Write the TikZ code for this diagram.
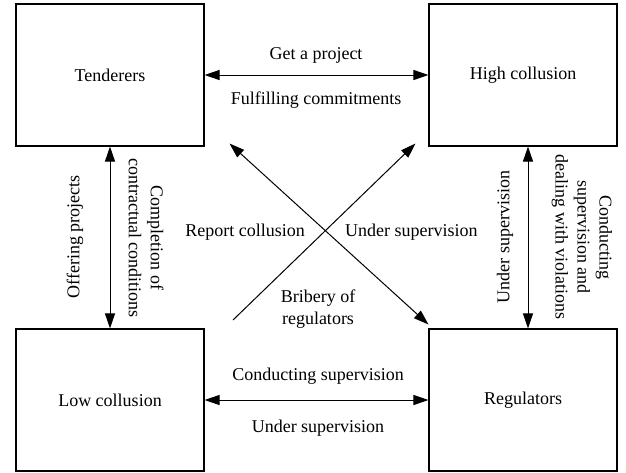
\documentclass[tikz,border=0pt]{standalone}
\usepackage{fontspec}
\setmainfont{Liberation Serif}
\usetikzlibrary{arrows.meta,calc}
\begin{document}
\begin{tikzpicture}[x=1pt,y=-1pt,
  box/.style={draw,line width=1.1pt,minimum width=188pt,minimum height=142pt,inner sep=0pt,font=\fontsize{18}{21}\selectfont},
  lbl/.style={font=\fontsize{18}{22}\selectfont,inner sep=0pt,align=center},
  conn/.style={line width=1pt,{Triangle[length=15pt,width=10pt]}-{Triangle[length=15pt,width=10pt]}},
  dconn/.style={line width=1pt},
  dtip/.style={-{Triangle[length=15pt,width=10pt]}},
  dtips/.style={{Triangle[length=15pt,width=10pt]}-{Triangle[length=15pt,width=10pt]}}
]
\useasboundingbox (0,0) rectangle (626,472);
\node[box] (ten) at (110,75) {Tenderers};
\node[box] (high) at (523,75) {High collusion};
\node[box] (low) at (110,400) {Low collusion};
\node[box] (reg) at (523,400) {Regulators};

\node[lbl] (gp) at (316,55) {Get a project};
\node[lbl] (fc) at (316,100) {Fulfilling commitments};
\node[lbl] (cs) at (318,376) {Conducting supervision};
\node[lbl] (us) at (318,428) {Under supervision};
\node[lbl,anchor=east] (rc) at (305,232) {Report collusion};
\node[lbl,anchor=west] (us2) at (345,232) {Under supervision};
\node[lbl] (br) at (318,309) {Bribery of\\regulators};
\node[lbl,rotate=90] (op) at (75,237) {Offering projects};
\node[lbl,rotate=-90] (cc) at (146,238) {Completion of\\contractual conditions};
\node[lbl,rotate=90] (us3) at (505,237) {Under supervision};
\node[lbl,rotate=-90] (cd) at (582,237) {Conducting\\supervision and\\dealing with violations};

\draw[conn] (ten.east) -- (high.west);
\draw[conn] (low.east) -- (reg.west);
\draw[conn] (ten.south) -- (low.north);
\draw[conn] ([xshift=5pt]high.south) -- ([xshift=5pt]reg.north);

\coordinate (a1) at ($(ten.south east)+(25,-3)$);
\coordinate (a2) at ($(reg.north west)+(0,-4)$);
\coordinate (b1) at (233,320);
\coordinate (b2) at ($(high.south west)+(-13,-3)$);
\draw[dconn,dtips] (a1) -- (a2);
\draw[dconn,dtip] (b1) -- (b2);
\end{tikzpicture}
\end{document}
